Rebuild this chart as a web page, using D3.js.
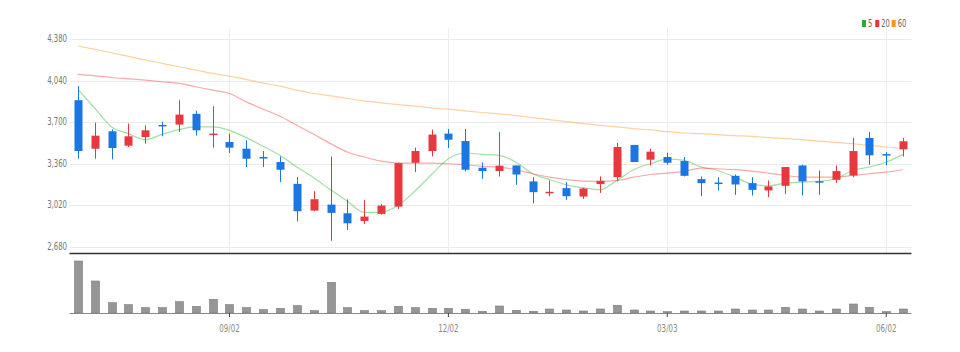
<!DOCTYPE html>
<html><head><meta charset="utf-8">
<script src="https://cdn.jsdelivr.net/npm/d3@7"></script>
<style>
html,body{margin:0;padding:0;background:#fff;}
svg{display:block;}
text{font-family:"Liberation Sans Narrow","Arial Narrow","DejaVu Sans Condensed",sans-serif;}
</style></head>
<body><svg id="c" width="960" height="352"></svg>
<script>
const dates = ["07/01","07/08","07/15","07/22","07/29","08/05","08/12","08/19","08/26","09/02",
"09/09","09/16","09/23","09/30","10/07","10/14","10/21","10/28","11/04","11/11",
"11/18","11/25","12/02","12/09","12/16","12/23","12/30","01/06","01/13","01/20",
"01/27","02/03","02/10","02/17","02/24","03/03","03/10","03/17","03/24","03/31",
"04/07","04/14","04/21","04/28","05/05","05/12","05/19","05/26","06/02","06/09"];
const openV  = [3881,3483,3626,3508,3579,3678,3681,3769,3596,3538,3483,3415,3374,3195,2976,3025,2954,2891,2949,3009,
3368,3464,3607,3546,3327,3300,3346,3215,3119,3160,3091,3193,3250,3514,3393,3415,3382,3234,3206,3261,
3201,3141,3179,3346,3217,3228,3264,3571,3439,3478];
const highV  = [3996,3697,3642,3689,3675,3705,3881,3793,3832,3607,3552,3464,3420,3250,3135,3420,3067,3064,3031,3370,
3492,3640,3645,3645,3371,3620,3346,3250,3223,3209,3163,3256,3530,3514,3483,3450,3415,3256,3250,3272,
3250,3223,3333,3352,3305,3346,3571,3620,3456,3571];
const lowV   = [3401,3401,3396,3497,3525,3585,3620,3590,3492,3448,3333,3333,3209,2888,2971,2729,2817,2866,2943,2990,
3291,3420,3489,3297,3237,3256,3187,3036,3094,3064,3072,3121,3215,3374,3346,3352,3256,3094,3141,3105,
3099,3086,3113,3099,3105,3201,3250,3352,3346,3420];
const closeV = [3464,3590,3489,3585,3634,3667,3763,3634,3607,3492,3401,3404,3311,2971,3069,2957,2872,2927,3017,3365,
3464,3599,3557,3311,3300,3344,3272,3127,3130,3094,3157,3220,3497,3374,3459,3368,3261,3201,3195,3190,
3146,3174,3333,3215,3209,3300,3464,3429,3431,3544];
const ma5  = [3969,3815,3662,3607,3557,3601,3640,3662,3662,3634,3574,3503,3429,3333,3245,3146,3053,2962,2962,3017,
3135,3272,3401,3448,3437,3429,3374,3278,3231,3187,3163,3146,3223,3311,3360,3398,3387,3333,3305,3250,
3195,3179,3201,3209,3215,3237,3305,3333,3374,3437];
const ma20 = [4092,4081,4067,4056,4045,4032,4018,3991,3963,3936,3867,3807,3749,3675,3601,3525,3456,3415,3382,3365,
3365,3365,3360,3352,3338,3333,3311,3278,3250,3231,3217,3215,3223,3250,3272,3283,3297,3324,3319,3311,
3300,3283,3264,3250,3250,3250,3264,3278,3291,3311];
const ma60 = [4325,4298,4270,4240,4210,4183,4155,4128,4100,4078,4051,4021,3996,3963,3936,3917,3895,3875,3859,3845,
3832,3818,3807,3793,3780,3769,3755,3738,3722,3705,3689,3675,3662,3648,3637,3623,3612,3607,3599,3590,
3585,3574,3566,3557,3546,3535,3525,3511,3497,3486];
const volume = [156,96,31,25,16,16,34,20,41,25,16,10,14,22,7,92,16,7,7,20,
16,14,14,11,5,21,8,5,12,9,6,12,23,9,6,4,6,6,6,12,
9,9,17,12,6,12,27,17,4,12];
const yTicks = [2680,3020,3360,3700,4040,4380];
const tickDates = ["09/02","12/02","03/03","06/02"];
const maNames = ["5","20","60"];
const maColors = ["#22b322","#ee3333","#f7941d"];

const svg = d3.select("#c");
const L = 69.5, R = 911.5;
const x = d3.scaleBand().domain(d3.range(dates.length)).range([L, R]);
const cx = i => x(i) + x.bandwidth()/2;
const y = d3.scaleLinear().domain([2680, 4380]).range([246.7, 39.3]);
const yv = d3.scaleLinear().domain([0, 171]).range([313, 256]);

function squeeze(sel, f) {
  sel.each(function() {
    const w = this.getComputedTextLength();
    d3.select(this).attr("textLength", w * f).attr("lengthAdjust", "spacingAndGlyphs");
  });
}

// horizontal grid
svg.append("g").selectAll("line").data(yTicks).join("line")
  .attr("x1", L).attr("x2", R)
  .attr("y1", d => Math.round(y(d)) + 0.5).attr("y2", d => Math.round(y(d)) + 0.5)
  .attr("stroke", "#ebebeb").attr("stroke-width", 1);
// vertical grid
svg.append("g").selectAll("line").data(tickDates).join("line")
  .attr("x1", d => Math.round(cx(dates.indexOf(d))) + 0.5)
  .attr("x2", d => Math.round(cx(dates.indexOf(d))) + 0.5)
  .attr("y1", 28).attr("y2", 253)
  .attr("stroke", "#ededed").attr("stroke-width", 1);

// y labels
const yAxis = d3.axisLeft(y).tickValues(yTicks).tickFormat(d3.format(",")).tickSize(0).tickPadding(0);
const ga = svg.append("g").attr("transform", `translate(${L-2.5},-1)`).call(yAxis);
ga.select(".domain").remove();
ga.selectAll("text").attr("fill", "#777").attr("font-size", 11)
  .style("font-family", '"Liberation Sans Narrow","Arial Narrow","DejaVu Sans Condensed",sans-serif');
squeeze(ga.selectAll("text"), 0.7);

// moving averages
const mas = [ma5, ma20, ma60];
const line = d3.line().x((d, i) => cx(i)).y(d => y(d)).curve(d3.curveMonotoneX);
mas.forEach((arr, k) => {
  svg.append("path").datum(arr).attr("d", line)
    .attr("fill", "none").attr("stroke", maColors[k]).attr("stroke-opacity", 0.42)
    .attr("stroke-width", 1.2);
});

// candles
const up = "#e9383d", down = "#1a76e3";
const idx = d3.range(dates.length);
const cg = svg.append("g").selectAll("g").data(idx).join("g");
cg.append("line")
  .attr("x1", i => Math.round(cx(i)) + 0.5).attr("x2", i => Math.round(cx(i)) + 0.5)
  .attr("y1", i => y(highV[i])).attr("y2", i => y(lowV[i]))
  .attr("stroke", i => closeV[i] >= openV[i] ? up : down).attr("stroke-width", 1);
cg.append("rect")
  .attr("x", i => Math.round(cx(i)) - 3.5)
  .attr("width", 8)
  .attr("y", i => y(Math.max(openV[i], closeV[i])))
  .attr("height", i => Math.max(1.5, Math.abs(y(openV[i]) - y(closeV[i]))))
  .attr("fill", i => closeV[i] >= openV[i] ? up : down);

// separator
svg.append("line").attr("x1", L).attr("x2", R).attr("y1", 253.5).attr("y2", 253.5)
  .attr("stroke", "#333").attr("stroke-width", 1.6);

// volume
svg.append("g").selectAll("rect").data(idx).join("rect")
  .attr("x", i => Math.round(cx(i)) - 3.5).attr("width", 8)
  .attr("y", i => yv(volume[i])).attr("height", i => yv(0) - yv(volume[i]))
  .attr("fill", "#969696").attr("stroke", "#7a7a7a").attr("stroke-width", 0.6);

const xAxis = d3.axisBottom(x).tickValues(tickDates.map(d => dates.indexOf(d)))
  .tickFormat(i => dates[i]).tickSize(4).tickPadding(8);
const gx = svg.append("g").attr("transform", `translate(0,${yv(0)})`).call(xAxis);
gx.select(".domain").attr("stroke", "#888").attr("d", `M${L},0.5H${R}`);
gx.selectAll(".tick line").attr("stroke", "#444");
gx.selectAll("text").attr("fill", "#888").attr("font-size", 10.5)
  .style("font-family", '"Liberation Sans Narrow","Arial Narrow","DejaVu Sans Condensed",sans-serif');
squeeze(gx.selectAll("text"), 0.75);

// legend
const lg = svg.append("g").attr("transform", "translate(862,24)");
let lx = 0;
maNames.forEach((n, k) => {
  lg.append("rect").attr("x", lx).attr("y", -4).attr("width", 4).attr("height", 7).attr("fill", maColors[k]);
  const t = lg.append("text").attr("x", lx + 6).attr("y", 3).attr("font-size", 10).attr("fill", "#666").text(n);
  squeeze(t, 0.75);
  lx += 6 + t.node().getComputedTextLength() * 0.75 + 4;
});
</script></body></html>
